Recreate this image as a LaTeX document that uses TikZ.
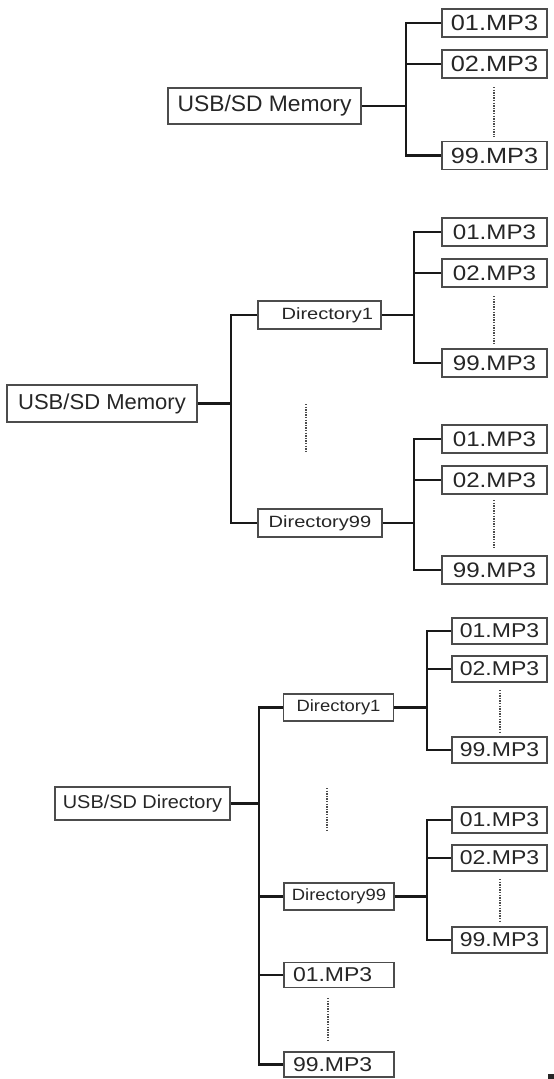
\documentclass[tikz,border=0pt]{standalone}
\usepackage{fontspec}
\setmainfont{Liberation Sans}
\newfontfamily\fRoot[FakeStretch=1.02]{Liberation Sans}
\newfontfamily\fRootC[FakeStretch=1.07]{Liberation Sans}
\newfontfamily\fFile[FakeStretch=1.15]{Liberation Sans}
\newfontfamily\fDirB[FakeStretch=1.23]{Liberation Sans}
\newfontfamily\fDirC[FakeStretch=1.13]{Liberation Sans}
\begin{document}
\begin{tikzpicture}[x=1pt,y=-1pt,
  box/.style={draw=black!70,line width=1.5pt,inner sep=0pt,text=black!85,anchor=center},
  conn/.style={line width=2.5pt,black!90},
  dotline/.style={line width=2pt,black!70,dash pattern=on 1.3pt off 1.3pt},
  rootA/.style={box,minimum width=193pt,minimum height=36pt,font=\fRoot\fontsize{22.4}{24}\selectfont},
  rootB/.style={box,minimum width=190pt,minimum height=37pt,font=\fRoot\fontsize{21.6}{24}\selectfont},
  rootC/.style={box,minimum width=175pt,minimum height=33pt,font=\fRootC\fontsize{18.6}{21}\selectfont},
  fileA/.style={box,minimum width=105pt,minimum height=28pt,font=\fFile\fontsize{22}{24}\selectfont},
  fileB/.style={box,minimum width=105pt,minimum height=28pt,font=\fFile\fontsize{21}{23}\selectfont},
  fileC/.style={box,minimum width=95pt,minimum height=26pt,font=\fFile\fontsize{20}{22}\selectfont},
  fileD/.style={box,minimum height=25pt,inner xsep=9pt,text width=92pt,align=left,font=\fFile\fontsize{20}{22}\selectfont},
  dirB/.style={box,minimum width=124pt,minimum height=28pt,font=\fDirB\fontsize{16.3}{18}\selectfont},
  dirC/.style={box,minimum width=110pt,minimum height=27pt,font=\fDirC\fontsize{16.3}{18}\selectfont}
]
\useasboundingbox (0,0) rectangle (554,1079);
\fill[white] (0,0) rectangle (554,1079);

% ---------- Diagram 1 ----------
\node[rootA] (r1) at (264.5,106) {USB/SD Memory};
\node[fileA] (f1a) at (494.5,23) {01.MP3};
\node[fileA] (f1b) at (494.5,64) {02.MP3};
\node[fileA] (f1c) at (494.5,155.5) {99.MP3};
\coordinate (t1) at (406,106);
\draw[conn] (r1.east) -- (t1);
\draw[conn] (f1a.west) -| (t1) |- (f1c.west);
\draw[conn] (f1b.west) -- (f1b.west -| t1);
\draw[dotline] (494,87) -- (494,137);

% ---------- Diagram 2 ----------
\node[rootB] (r2) at (102,403.5) {USB/SD Memory};
\node[box,minimum height=28pt,inner xsep=8pt,text width=107pt,align=right,font=\fDirB\fontsize{16.3}{18}\selectfont] (d21) at (319.5,315) {Directory1};
\node[dirB] (d22) at (320,523) {Directory99};
\coordinate (t2) at (231,403.5);
\draw[conn] (r2.east) -- (t2);
\draw[conn] (d21.west) -| (t2) |- (d22.west);
\draw[dotline] (306,404) -- (306,452);

\node[fileB] (f21a) at (494.5,232) {01.MP3};
\node[fileB] (f21b) at (494.5,273) {02.MP3};
\node[fileB] (f21c) at (494.5,363) {99.MP3};
\coordinate (t21) at (414,315);
\draw[conn] (d21.east) -- (t21);
\draw[conn] (f21a.west) -| (t21) |- (f21c.west);
\draw[conn] (f21b.west) -- (f21b.west -| t21);
\draw[dotline] (494,296) -- (494,343);

\node[fileB] (f22a) at (494.5,439) {01.MP3};
\node[fileB] (f22b) at (494.5,480) {02.MP3};
\node[fileB] (f22c) at (494.5,570) {99.MP3};
\coordinate (t22) at (414,523);
\draw[conn] (d22.east) -- (t22);
\draw[conn] (f22a.west) -| (t22) |- (f22c.west);
\draw[conn] (f22b.west) -- (f22b.west -| t22);
\draw[dotline] (494,500) -- (494,547);

% ---------- Diagram 3 ----------
\node[rootC] (r3) at (142.5,803.5) {USB/SD Directory};
\node[dirC] (d31) at (338.5,707.5) {Directory1};
\node[dirC] (d32) at (339,896.5) {Directory99};
\node[fileD] (g1) at (339,975) {01.MP3};
\node[fileD] (g2) at (339,1064.5) {99.MP3};
\coordinate (t3) at (259,803.5);
\draw[conn] (r3.east) -- (t3);
\draw[conn] (d31.west) -| (t3) |- (g2.west);
\draw[conn] (d32.west) -- (d32.west -| t3);
\draw[conn] (g1.west) -- (g1.west -| t3);
\draw[dotline] (327,788) -- (327,831);
\draw[dotline] (328,998) -- (328,1041);

\node[fileC] (f31a) at (499.5,631) {01.MP3};
\node[fileC] (f31b) at (499.5,669) {02.MP3};
\node[fileC] (f31c) at (499.5,750) {99.MP3};
\coordinate (t31) at (427,707.5);
\draw[conn] (d31.east) -- (t31);
\draw[conn] (f31a.west) -| (t31) |- (f31c.west);
\draw[conn] (f31b.west) -- (f31b.west -| t31);
\draw[dotline] (500,690) -- (500,733);

\node[fileC] (f32a) at (499.5,820) {01.MP3};
\node[fileC] (f32b) at (499.5,858) {02.MP3};
\node[fileC] (f32c) at (499.5,940) {99.MP3};
\coordinate (t32) at (427,896.5);
\draw[conn] (d32.east) -- (t32);
\draw[conn] (f32a.west) -| (t32) |- (f32c.west);
\draw[conn] (f32b.west) -- (f32b.west -| t32);
\draw[dotline] (500,879) -- (500,922);

% small mark at bottom right
\fill[black!85] (548,1074) rectangle (554,1079);
\end{tikzpicture}
\end{document}
